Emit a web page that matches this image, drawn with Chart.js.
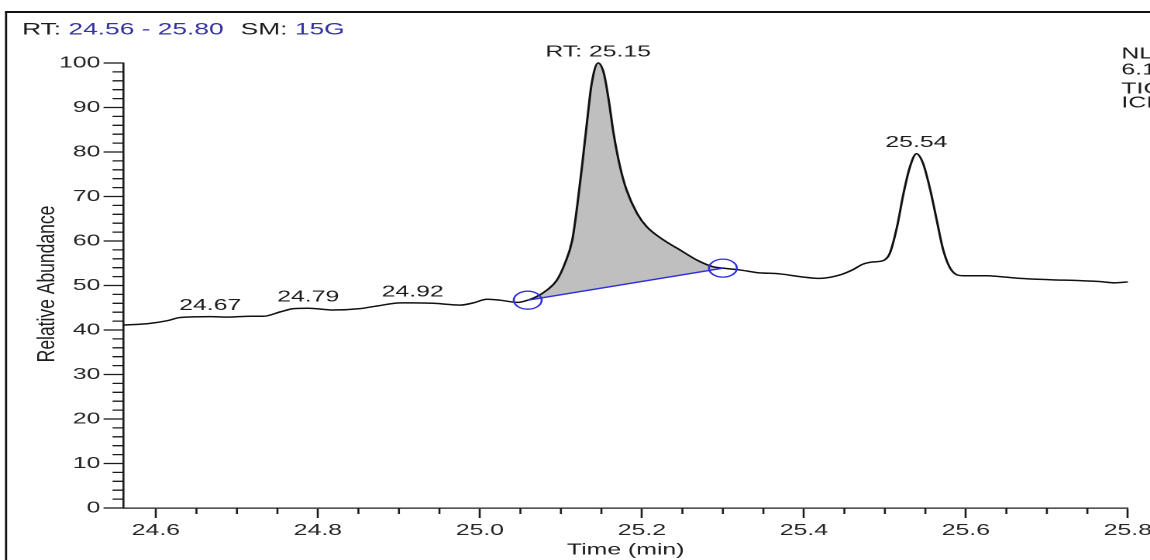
<!DOCTYPE html>
<html>
<head>
<meta charset="utf-8">
<title>Chromatogram RT 24.56 - 25.80</title>
<script src="https://cdn.jsdelivr.net/npm/chart.js@4.4.1/dist/chart.umd.min.js"></script>
<style>
  html, body { margin: 0; padding: 0; background: #fff; overflow: hidden; }
  /* the plot is laid out on a narrower canvas and widened horizontally,
     which gives the wide instrument-style lettering */
  #wrap { width: 742px; height: 560px; transform: scale(1.5499, 1); transform-origin: 0 0; }
</style>
</head>
<body>
<div id="wrap"><canvas id="trace" width="742" height="560"></canvas></div>
<script>
// ---- data -------------------------------------------------------------
const xMin = 24.56;
const xMax = 25.80;
const smoothing = '15G';

// retention time (min)
const times = [
  24.560, 24.593, 24.614, 24.630, 24.667, 24.688, 24.717, 24.733, 24.754, 24.770,
  24.788, 24.819, 24.852, 24.873, 24.902, 24.917, 24.942, 24.976, 24.992, 25.009,
  25.025, 25.046, 25.059, 25.070, 25.083, 25.095, 25.105, 25.114, 25.120, 25.126,
  25.132, 25.138, 25.146, 25.153, 25.159, 25.165, 25.173, 25.181, 25.194, 25.206,
  25.227, 25.247, 25.268, 25.288, 25.300, 25.321, 25.342, 25.371, 25.395, 25.420,
  25.445, 25.461, 25.473, 25.486, 25.498, 25.506, 25.515, 25.523, 25.531, 25.539,
  25.547, 25.556, 25.564, 25.572, 25.582, 25.597, 25.626, 25.642, 25.667, 25.704,
  25.741, 25.765, 25.784, 25.800
];

// relative abundance (%)
const abundance = [
  41.1, 41.5, 42.1, 42.8, 43.0, 42.9, 43.1, 43.1, 44.1, 44.8,
  44.9, 44.5, 44.8, 45.4, 46.1, 46.1, 46.0, 45.6, 46.1, 46.9,
  46.7, 46.2, 46.7, 47.5, 49.0, 51.2, 55.0, 60.2, 67.7, 76.7,
  86.4, 95.4, 100.0, 97.7, 91.7, 84.2, 76.7, 71.5, 66.2, 63.2,
  60.2, 58.0, 55.7, 54.2, 53.9, 53.5, 52.9, 52.6, 52.0, 51.6,
  52.4, 53.6, 54.8, 55.3, 55.6, 57.2, 63.2, 70.7, 76.7, 79.6,
  77.5, 71.5, 64.7, 58.0, 53.5, 52.2, 52.2, 52.0, 51.6, 51.3,
  51.1, 50.9, 50.6, 50.8
];

// integration baseline of the main peak
const baselineTimes = [25.059, 25.300];
const baselineAbundance = [46.7, 53.9];

// apexes that carry a retention-time label
const labelledTimes = [24.667, 24.788, 24.917, 25.146, 25.539];

// axis ticks
const xTickValues = [24.6, 24.8, 25.0, 25.2, 25.4, 25.6, 25.8];
const xMinorStep = 0.05;
const yTickValues = [0, 10, 20, 30, 40, 50, 60, 70, 80, 90, 100];
const yMinorStep = 2;

// run information at the right edge
const sideNotes = ['NL:', '6.11E7', 'TIC MS', 'ICIS'];

// ---- drawing ----------------------------------------------------------
const FONT = "'Liberation Sans', Arial, Helvetica, sans-serif";
const INK = '#1c1c1c';
const BLUE = '#2f2fe0';
const HEADER_BLUE = '#34349e';

const points = times.map((t, i) => ({ x: t, y: abundance[i] }));
const peakPoints = points.filter(p => p.x >= baselineTimes[0] && p.x <= baselineTimes[1]);
const baselinePoints = baselineTimes.map((t, i) => ({ x: t, y: baselineAbundance[i] }));

const decorations = {
  id: 'decorations',
  afterDatasetsDraw(chart) {
    const { ctx, scales: { x, y } } = chart;
    ctx.save();
    ctx.fillStyle = INK;
    ctx.font = `16px ${FONT}`;
    ctx.textAlign = 'center';
    ctx.textBaseline = 'middle';
    labelledTimes.forEach(t => {
      const i = times.indexOf(t);
      const inPeak = t >= baselineTimes[0] && t <= baselineTimes[1];
      const text = (inPeak ? 'RT: ' : '') + t.toFixed(2);
      ctx.fillText(text, x.getPixelForValue(t), y.getPixelForValue(abundance[i]) - 11);
    });
    ctx.restore();
  },
  afterDraw(chart) {
    const { ctx, chartArea: a, scales: { x, y } } = chart;
    const W = chart.width;
    ctx.save();

    // outer frame (top and left edges)
    ctx.strokeStyle = '#111';
    ctx.lineWidth = 2;
    ctx.beginPath(); ctx.moveTo(3.2, 12); ctx.lineTo(W, 12); ctx.stroke();
    ctx.lineWidth = 1.4;
    ctx.beginPath(); ctx.moveTo(3.9, 12); ctx.lineTo(3.9, chart.height); ctx.stroke();

    // minor ticks
    ctx.strokeStyle = INK;
    ctx.lineWidth = 1.3;
    ctx.beginPath();
    const yCount = Math.round((yTickValues[yTickValues.length - 1] - yTickValues[0]) / yMinorStep);
    const yPerMajor = Math.round((yTickValues[1] - yTickValues[0]) / yMinorStep);
    for (let k = 0; k <= yCount; k++) {
      if (k % yPerMajor === 0) continue;
      const py = y.getPixelForValue(yTickValues[0] + k * yMinorStep);
      ctx.moveTo(a.left, py); ctx.lineTo(a.left - 7.1, py);
    }
    const xCount = Math.round((xTickValues[xTickValues.length - 1] - xTickValues[0]) / xMinorStep);
    const xPerMajor = Math.round((xTickValues[1] - xTickValues[0]) / xMinorStep);
    for (let k = 0; k <= xCount; k++) {
      if (k % xPerMajor === 0) continue;
      const px = x.getPixelForValue(xTickValues[0] + k * xMinorStep);
      ctx.moveTo(px, a.bottom); ctx.lineTo(px, a.bottom + 6);
    }
    ctx.stroke();

    // header: time range and smoothing
    ctx.textAlign = 'left';
    ctx.textBaseline = 'middle';
    ctx.font = `17px ${FONT}`;
    let hx = 14.2;
    const parts = [
      ['RT: ', INK, 0],
      [`${xMin.toFixed(2)} - ${xMax.toFixed(2)}`, HEADER_BLUE, 11],
      ['SM: ', INK, 0],
      [smoothing, HEADER_BLUE, 0]
    ];
    parts.forEach(([txt, col, gap]) => {
      ctx.fillStyle = col;
      ctx.fillText(txt, hx, 30);
      hx += ctx.measureText(txt).width + gap;
    });

    // run information, right edge
    ctx.fillStyle = INK;
    ctx.font = `16px ${FONT}`;
    const noteY = [54, 70, 89, 103];
    sideNotes.forEach((s, i) => ctx.fillText(s, 723.5, noteY[i]));

    // axis titles
    ctx.textAlign = 'center';
    ctx.font = `16px ${FONT}`;
    ctx.fillText('Time (min)', (a.left + a.right) / 2, 550);

    ctx.save();
    ctx.translate(30.6, 284);
    ctx.rotate(-Math.PI / 2);
    ctx.scale(1, 0.9);
    ctx.font = `17.5px ${FONT}`;
    ctx.fillText('Relative Abundance', 0, 0);
    ctx.restore();

    ctx.restore();
  }
};

new Chart(document.getElementById('trace'), {
  type: 'line',
  data: {
    datasets: [
      {
        data: points,
        borderColor: '#111',
        borderWidth: 1.5,
        pointRadius: 0,
        cubicInterpolationMode: 'monotone',
        fill: false,
        clip: false,
        order: 1
      },
      {
        data: peakPoints,
        borderColor: 'rgba(0,0,0,0)',
        borderWidth: 0,
        backgroundColor: '#bfbfbf',
        pointRadius: 0,
        cubicInterpolationMode: 'monotone',
        fill: '+1',
        order: 3
      },
      {
        data: baselinePoints,
        borderColor: BLUE,
        borderWidth: 1.4,
        tension: 0,
        pointStyle: 'circle',
        pointRadius: 9,
        pointBorderColor: BLUE,
        pointBackgroundColor: 'rgba(0,0,0,0)',
        pointBorderWidth: 1.3,
        fill: false,
        clip: false,
        order: 0
      }
    ]
  },
  options: {
    responsive: false,
    animation: false,
    devicePixelRatio: 2,
    events: [],
    layout: { padding: { left: 0, top: 63, right: 14.3, bottom: 0 } },
    plugins: { legend: { display: false }, tooltip: { enabled: false } },
    scales: {
      x: {
        type: 'linear',
        min: xMin,
        max: xMax,
        afterBuildTicks: s => { s.ticks = xTickValues.map(v => ({ value: v })); },
        afterFit: s => { s.height = 52; s.paddingLeft = 0; s.paddingRight = 0; },
        grid: { drawOnChartArea: false, drawTicks: true, tickLength: 10, tickWidth: 1.3, tickColor: INK },
        border: { display: true, color: INK, width: 1.3 },
        ticks: {
          autoSkip: false, maxRotation: 0, padding: 3, color: '#262626',
          font: { family: FONT, size: 16 },
          callback: v => Number(v).toFixed(1)
        }
      },
      y: {
        min: 0,
        max: 100,
        afterBuildTicks: s => { s.ticks = yTickValues.map(v => ({ value: v })); },
        afterFit: s => { s.width = 79.7; },
        grid: { drawOnChartArea: false, drawTicks: true, tickLength: 12.9, tickWidth: 1.3, tickColor: INK },
        border: { display: true, color: INK, width: 1.3 },
        ticks: {
          padding: 2, color: '#262626',
          font: { family: FONT, size: 16 },
          callback: v => String(v)
        }
      }
    }
  },
  plugins: [decorations]
});
</script>
</body>
</html>
